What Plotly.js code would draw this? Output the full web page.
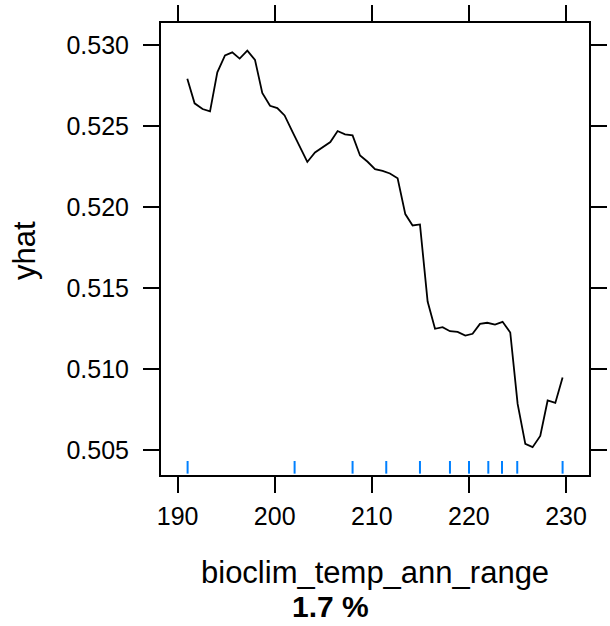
<!DOCTYPE html>
<html>
<head>
<meta charset="utf-8">
<script src="https://cdn.plot.ly/plotly-3.0.1.min.js"></script>
<style>
html,body{margin:0;padding:0;background:#fff;}
#chart{width:610px;height:626px;}
</style>
</head>
<body>
<div id="chart"></div>
<script>
// Partial dependence of yhat on bioclim_temp_ann_range
const xValues = [191.00,191.75,192.57,193.34,194.09,194.88,195.63,196.39,197.18,197.97,
  198.72,199.52,200.27,201.02,201.81,202.58,203.36,204.15,204.93,205.73,
  206.48,207.24,208.02,208.79,209.57,210.33,211.11,211.87,212.66,213.45,
  214.20,214.96,215.75,216.51,217.29,218.05,218.84,219.63,220.38,221.14,
  221.89,222.69,223.47,224.26,225.02,225.81,226.56,227.35,228.11,228.90,229.65];
const yhatValues = [0.52794,0.52642,0.52607,0.52592,0.52833,0.52938,0.52957,0.52918,0.52967,0.52910,
  0.52706,0.52627,0.52613,0.52567,0.52469,0.52370,0.52280,0.52339,0.52372,0.52403,
  0.52471,0.52450,0.52444,0.52320,0.52281,0.52236,0.52225,0.52209,0.52179,0.51958,
  0.51888,0.51894,0.51418,0.51250,0.51260,0.51235,0.51231,0.51208,0.51219,0.51280,
  0.51287,0.51276,0.51293,0.51227,0.50786,0.50539,0.50519,0.50588,0.50807,0.50792,0.50949];
// rug (deciles of the predictor)
const rugX = [191.03,202.05,208.02,211.49,214.96,218.05,220.01,222.00,223.41,224.98,229.65];
const xTicks = [190,200,210,220,230];
const yTicks = [0.505,0.510,0.515,0.520,0.525,0.530];
const xTitle = "bioclim_temp_ann_range";
const yTitle = "yhat";
const importanceLabel = "1.7 %";

const FONT = "Liberation Sans, Arial, Helvetica, sans-serif";

const traces = [{
  x: xValues, y: yhatValues, type: "scatter", mode: "lines",
  line: {color: "#000000", width: 1.8}, hoverinfo: "x+y"
}];

const rugShapes = rugX.map(v => ({
  type: "line", xref: "x", yref: "paper", x0: v, x1: v, y0: 0.003, y1: 0.031,
  line: {color: "#0080ff", width: 2}
}));

const axisCommon = {
  showgrid: false, zeroline: false, showline: true, mirror: "ticks",
  linecolor: "#000", linewidth: 2, ticks: "outside", ticklen: 16, tickwidth: 2,
  tickcolor: "#000", tickfont: {family: FONT, size: 25, color: "#000"}
};

const layout = {
  width: 610, height: 626,
  margin: {l: 161, r: 21, t: 23, b: 151, pad: 0},
  paper_bgcolor: "#fff", plot_bgcolor: "#fff",
  showlegend: false,
  xaxis: Object.assign({}, axisCommon, {
    range: [188.29, 232.37], tickvals: xTicks, ticktext: xTicks.map(String),
    ticklabelstandoff: 2
  }),
  yaxis: Object.assign({}, axisCommon, {
    range: [0.50347, 0.53138], tickvals: yTicks, ticktext: yTicks.map(v => v.toFixed(3)),
    ticklabelstandoff: 9
  }),
  shapes: rugShapes,
  annotations: [
    {text: xTitle, xref: "paper", yref: "paper", x: 0.5, y: -0.2168,
     xanchor: "center", yanchor: "middle", showarrow: false,
     font: {family: FONT, size: 31, color: "#000"}},
    {text: "<b>" + importanceLabel + "</b>", xref: "paper", yref: "paper", x: 0.3949, y: -0.292,
     xanchor: "center", yanchor: "middle", showarrow: false,
     font: {family: FONT, size: 30, color: "#000"}},
    {text: yTitle, xref: "paper", yref: "paper", x: -0.318, y: 0.4978,
     xanchor: "center", yanchor: "middle", showarrow: false, textangle: -90,
     font: {family: FONT, size: 31, color: "#000"}}
  ]
};

Plotly.newPlot("chart", traces, layout, {displayModeBar: false, staticPlot: true});
</script>
</body>
</html>
